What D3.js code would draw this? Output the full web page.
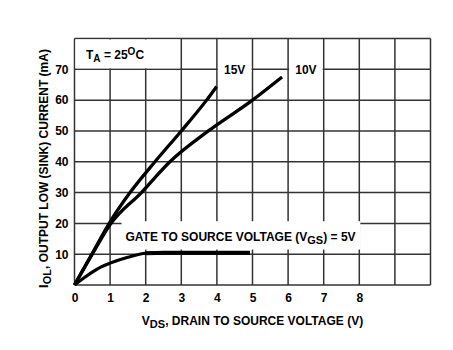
<!DOCTYPE html>
<html><head><meta charset="utf-8">
<script src="https://cdn.jsdelivr.net/npm/d3@7"></script>
<style>body{margin:0;background:#fff}svg{display:block}text{font-family:"Liberation Sans",Arial,sans-serif}</style>
</head><body>
<svg id="c" width="453" height="350"></svg>
<script>
const xTickLabels = [0,1,2,3,4,5,6,7,8];
const yTickLabels = [10,20,30,40,50,60,70];
const xGrid = [0,1,2,3,4,5,6,7,8,9,10];
const yGrid = [0,10,20,30,40,50,60,70,80];
const seriesNames = ["15V","10V","5V"];
const vds15 = [0,0.5,1,1.56,2.26,3.0,3.71,3.99];
const iol15 = [0,10.3,20.5,30,40,50,60,64.4];
const vds10 = [0,0.5,1,1.88,2.68,3.76,5.0,5.83];
const iol10 = [0,10,19.6,30,40,50,60,67.5];
const vds5 = [0,0.25,0.5,0.75,1,1.5,2,2.5,3.5,4.93];
const iol5 = [0,2.2,4.2,5.9,7.1,9.0,10.3,10.5,10.5,10.5];

const svg = d3.select("#c");
const x = d3.scaleLinear().domain([0,10]).range([74.5,430.5]);
const y = d3.scaleLinear().domain([0,80]).range([285,38.5]);
const FS = 12;

// grid
svg.append("g").selectAll("line").data(xGrid).join("line")
  .attr("x1",d=>x(d)).attr("x2",d=>x(d)).attr("y1",y(0)).attr("y2",y(80))
  .attr("stroke","#333").attr("stroke-width",1.5);
svg.append("g").selectAll("line").data(yGrid).join("line")
  .attr("y1",d=>y(d)).attr("y2",d=>y(d)).attr("x1",x(0)).attr("x2",x(10))
  .attr("stroke","#333").attr("stroke-width",1.5);

// label boxes (white backgrounds)
svg.append("rect").attr("x",x(0)+1).attr("y",y(80)+1)
  .attr("width",x(3)-x(0)-2.5).attr("height",y(70)-y(80)-2).attr("fill","#fff");
svg.append("rect").attr("x",x(4)+1).attr("y",y(70)-3)
  .attr("width",x(5)-x(4)-2).attr("height",6).attr("fill","#fff");
svg.append("rect").attr("x",x(6)+1).attr("y",y(70)-3)
  .attr("width",x(7)-x(6)-2).attr("height",6).attr("fill","#fff");
svg.append("rect").attr("x",x(1.32)).attr("y",y(20.7))
  .attr("width",x(8)-x(1.32)+1).attr("height",y(11.5)-y(20.7)).attr("fill","#fff");

// curves
const line = d3.line().x(d=>x(d[0])).y(d=>y(d[1])).curve(d3.curveMonotoneX);
const s15 = vds15.map((v,i)=>[v,iol15[i]]);
const s10 = vds10.map((v,i)=>[v,iol10[i]]);
const s5 = vds5.map((v,i)=>[v,iol5[i]]);
[[s15,3.3],[s10,3.3],[s5,3.2]].forEach(([d,w])=>{
  svg.append("path").datum(d).attr("d",line).attr("fill","none")
    .attr("stroke","#000").attr("stroke-width",w).attr("stroke-linecap","butt");
});
// thicker flat part of 5V
svg.append("path").datum(s5.filter(d=>d[0]>=2)).attr("d",line).attr("fill","none")
  .attr("stroke","#000").attr("stroke-width",4);

// axes tick labels
const yAxis = d3.axisLeft(y).tickValues(yTickLabels).tickSize(0).tickPadding(6);
const gy = svg.append("g").attr("transform",`translate(${x(0)},0)`).call(yAxis);
gy.select(".domain").remove();
gy.selectAll("text").attr("font-size",FS).attr("font-weight","bold").attr("fill","#000")
  .attr("font-family","Liberation Sans, Arial, sans-serif");
const xAxis = d3.axisBottom(x).tickValues(xTickLabels).tickSize(0).tickPadding(8);
const gx = svg.append("g").attr("transform",`translate(0,${y(0)})`).call(xAxis);
gx.select(".domain").remove();
gx.selectAll("text").attr("font-size",FS).attr("font-weight","bold").attr("fill","#000")
  .attr("font-family","Liberation Sans, Arial, sans-serif");

// series labels
svg.append("text").attr("x",x(4.5)).attr("y",y(70)+4.5).attr("text-anchor","middle")
  .attr("font-size",FS).attr("font-weight","bold").text(seriesNames[0]);
svg.append("text").attr("x",x(6.5)).attr("y",y(70)+4.5).attr("text-anchor","middle")
  .attr("font-size",FS).attr("font-weight","bold").text(seriesNames[1]);

// Gate label
const g = svg.append("text").attr("x",125.5).attr("y",240.5)
  .attr("font-size",FS).attr("font-weight","bold");
g.append("tspan").text("GATE TO SOURCE VOLTAGE (V");
g.append("tspan").attr("dy",3).attr("font-size",11).text("GS");
g.append("tspan").attr("dy",-3).text(") = 5V");

// TA label
const t = svg.append("text").attr("x",86).attr("y",59)
  .attr("font-size",FS).attr("font-weight","bold");
t.append("tspan").text("T");
t.append("tspan").attr("dy",3).attr("font-size",10).text("A");
t.append("tspan").attr("dy",-3).text(" = 25");
t.append("tspan").attr("dy",-4).attr("font-size",10).text("O");
t.append("tspan").attr("dy",4).text("C");

// x title
const xt = svg.append("text").attr("x",(x(0)+x(10))/2).attr("y",324.5).attr("text-anchor","middle")
  .attr("font-size",FS).attr("font-weight","bold");
xt.append("tspan").text("V");
xt.append("tspan").attr("dy",3).attr("font-size",11).text("DS");
xt.append("tspan").attr("dy",-3).text(", DRAIN TO SOURCE VOLTAGE (V)");

// y title
const yt = svg.append("text").attr("transform","translate(47.5,168.5) rotate(-90)")
  .attr("text-anchor","middle").attr("font-size",FS).attr("font-weight","bold");
yt.append("tspan").attr("font-size",13).text("I");
yt.append("tspan").attr("dy",3).attr("font-size",11).text("OL");
yt.append("tspan").attr("dy",-3).text(", OUTPUT LOW (SINK) CURRENT (mA)");
</script>
</body></html>
